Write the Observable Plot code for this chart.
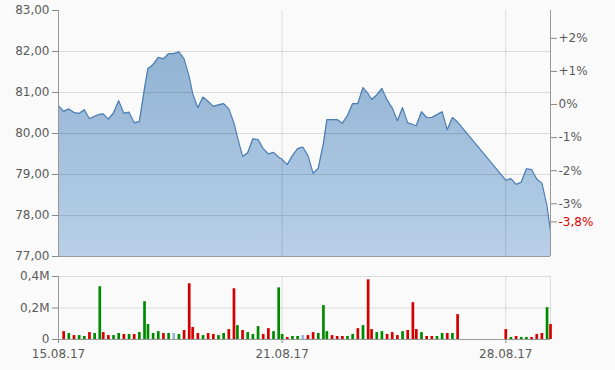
<!DOCTYPE html>
<html><head><meta charset="utf-8">
<script src="https://cdn.jsdelivr.net/npm/d3@7"></script>
<script src="https://cdn.jsdelivr.net/npm/@observablehq/plot@0.6"></script>
<style>
html,body{margin:0;padding:0;background:#fafafa;}
#chart{width:615px;}
#chart svg{display:block;}
</style></head><body><div id="chart"></div>
<script>
// ---- data ----
const dateLabels = ["15.08.17", "21.08.17", "28.08.17"];
const dateTickDays = [0, 5, 10];          // trading-day index of each date label
const sessionSlots = 8.667;               // hourly slots per trading-day width
const priceTicks = [77, 78, 79, 80, 81, 82, 83];
const pctTicks = [2, 1, 0, -1, -2, -3];
const refPrice = 80.707;                  // 0% reference
const volTicks = [0, 0.2, 0.4];           // millions

// hourly prices per trading day (day 9 = 25.08 has no data)
const prices = [
  [80.68, 80.54, 80.60, 80.51, 80.49, 80.58, 80.36, 80.42, 80.47],
  [80.48, 80.35, 80.50, 80.80, 80.49, 80.52, 80.26, 80.29, 81.10],
  [81.58, 81.68, 81.86, 81.82, 81.95, 81.95, 81.99, 81.82, 81.38],
  [80.97, 80.63, 80.89, 80.78, 80.66, 80.70, 80.73, 80.60, 80.25],
  [79.92, 79.44, 79.53, 79.87, 79.85, 79.63, 79.50, 79.54, 79.42],
  [79.37, 79.24, 79.46, 79.63, 79.67, 79.46, 79.03, 79.15, 79.76],
  [80.34, 80.34, 80.34, 80.25, 80.44, 80.73, 80.73, 81.12, 80.97],
  [80.83, 80.94, 81.10, 80.82, 80.62, 80.31, 80.63, 80.26, 80.22],
  [80.19, 80.53, 80.39, 80.39, 80.46, 80.53, 80.09, 80.39, 80.28],
  [],
  [78.86, 78.90, 78.76, 78.81, 79.14, 79.12, 78.89, 78.79, 78.23],
  [77.60]
];

// hourly volume (millions) per trading day
const volumes = [
  [null, 0.050, 0.038, 0.025, 0.025, 0.019, 0.044, 0.038, 0.335],
  [0.044, 0.025, 0.025, 0.038, 0.032, 0.032, 0.032, 0.044, 0.240],
  [0.095, 0.038, 0.050, 0.038, 0.038, 0.038, 0.032, 0.057, 0.354],
  [0.076, 0.038, 0.025, 0.038, 0.032, 0.025, 0.038, 0.063, 0.322],
  [0.088, 0.057, 0.044, 0.032, 0.082, 0.032, 0.069, 0.050, 0.328],
  [0.032, 0.013, 0.019, 0.019, 0.025, 0.025, 0.044, 0.038, 0.215],
  [0.050, 0.025, 0.019, 0.019, 0.019, 0.032, 0.069, 0.088, 0.379],
  [0.063, 0.044, 0.050, 0.032, 0.044, 0.025, 0.050, 0.057, 0.234],
  [0.063, 0.044, 0.019, 0.019, 0.019, 0.038, 0.038, 0.038, 0.158],
  [],
  [0.063, 0.013, 0.019, 0.013, 0.013, 0.013, 0.032, 0.038, 0.202],
  [0.095]
];
// u = up (green), d = down (red), n = unchanged (blue-grey)
const volDirs = [
  [null, "d", "u", "d", "u", "u", "d", "u", "u"],
  ["d", "d", "u", "u", "d", "u", "d", "u", "u"],
  ["u", "u", "u", "d", "u", "n", "u", "d", "d"],
  ["d", "d", "u", "d", "d", "u", "u", "d", "d"],
  ["u", "d", "u", "u", "u", "d", "d", "u", "u"],
  ["u", "d", "u", "u", "n", "d", "d", "u", "u"],
  ["u", "d", "d", "d", "u", "u", "d", "u", "d"],
  ["d", "u", "u", "d", "d", "d", "u", "d", "d"],
  ["d", "u", "d", "d", "u", "u", "d", "u", "d"],
  [],
  ["d", "u", "d", "u", "u", "d", "d", "d", "u"],
  ["d"]
];

// ---- build tables ----
const priceData = [];
prices.forEach((day, d) => day.forEach((p, h) => priceData.push({t: d + h / sessionSlots, p})));
const volData = [];
volumes.forEach((day, d) => day.forEach((v, h) => {
  if (v != null) volData.push({t: d + h / sessionSlots, v, dir: volDirs[d][h]});
}));
const lastPrice = priceData[priceData.length - 1].p;
const lastPct = (lastPrice / refPrice - 1) * 100;
const lastLabel = (lastPct > 0 ? "+" : "") + lastPct.toFixed(1).replace(".", ",") + "%";

const xDomain = [0, 11];
const W = 615;
const plotStyle = {fontFamily: "'DejaVu Sans', Verdana, sans-serif", fontSize: "12px", color: "#5a5a5a", background: "transparent", overflow: "visible"};
const gridStyle = {stroke: "#000", strokeOpacity: 0.12};

const pctValues = pctTicks.map(p => refPrice * (1 + p / 100));
const pctFormat = d => {
  const i = pctValues.findIndex(v => Math.abs(v - d) < 1e-9);
  const p = pctTicks[i];
  return (p > 0 ? "+" : "") + p + "%";
};

const pricePlot = Plot.plot({
  width: W, height: 262,
  marginTop: 10, marginBottom: 6, marginLeft: 58, marginRight: 65,
  x: {domain: xDomain, axis: null, label: null},
  y: {domain: [77, 83], axis: null, label: null},
  style: plotStyle,
  marks: [
    Plot.areaY(priceData, {x: "t", y1: 77, y2: "p", fill: "url(#priceGrad)"}),
    Plot.gridY(priceTicks.slice(1, -1), gridStyle),
    Plot.gridX(dateTickDays.slice(1), gridStyle),
    Plot.lineY(priceData, {x: "t", y: "p", stroke: "#4a7db4", strokeWidth: 1.2}),
    Plot.ruleX([0, 11], {stroke: "#999"}),
    Plot.ruleY([77], {stroke: "#999"}),
    Plot.axisY(priceTicks, {anchor: "left", label: null, tickSize: 6, tickPadding: 3, stroke: "#888",
      tickFormat: d => d.toFixed(2).replace(".", ",")}),
    Plot.axisY(pctValues, {anchor: "right", label: null, tickSize: 6, tickPadding: 2, stroke: "#888", tickFormat: pctFormat}),
    Plot.axisY([lastPrice], {anchor: "right", label: null, tickSize: 6, tickPadding: 2, stroke: "#888", fill: "#e00000",
      dy: -10, tickFormat: () => lastLabel})
  ]
});

const svgNS = "http://www.w3.org/2000/svg";
const defs = document.createElementNS(svgNS, "defs");
const grad = document.createElementNS(svgNS, "linearGradient");
grad.setAttribute("id", "priceGrad");
grad.setAttribute("x1", "0"); grad.setAttribute("y1", "0");
grad.setAttribute("x2", "0"); grad.setAttribute("y2", "1");
[["0", "#92b3d3"], ["1", "#b8d0e8"]].forEach(([o, c]) => {
  const s = document.createElementNS(svgNS, "stop");
  s.setAttribute("offset", o); s.setAttribute("stop-color", c);
  grad.appendChild(s);
});
defs.appendChild(grad);
pricePlot.insertBefore(defs, pricePlot.firstChild);

const volumePlot = Plot.plot({
  width: W, height: 108,
  marginTop: 14, marginBottom: 31, marginLeft: 58, marginRight: 65,
  x: {domain: xDomain, axis: null, label: null},
  y: {domain: [0, 0.4], axis: null, label: null},
  color: {domain: ["u", "d", "n"], range: ["#008a00", "#d40000", "#98b6d6"]},
  style: plotStyle,
  marks: [
    Plot.gridY([0.2, 0.4], gridStyle),
    Plot.gridX(dateTickDays.slice(1), gridStyle),
    Plot.ruleX([11], gridStyle),
    Plot.ruleX(volData, {x: "t", y1: 0, y2: "v", stroke: "dir", strokeWidth: 2.7}),
    Plot.ruleX([0], {stroke: "#999"}),
    Plot.ruleY([0], {stroke: "#999"}),
    Plot.axisY(volTicks, {anchor: "left", label: null, tickSize: 6, tickPadding: 3, stroke: "#888",
      tickFormat: d => d === 0 ? "0" : d.toFixed(1).replace(".", ",") + "M"}),
    Plot.axisX(dateTickDays, {anchor: "bottom", label: null, tickSize: 4, tickPadding: 6, stroke: "#888",
      tickFormat: d => dateLabels[dateTickDays.indexOf(d)]})
  ]
});

document.getElementById("chart").append(pricePlot, volumePlot);
</script>
</body></html>
